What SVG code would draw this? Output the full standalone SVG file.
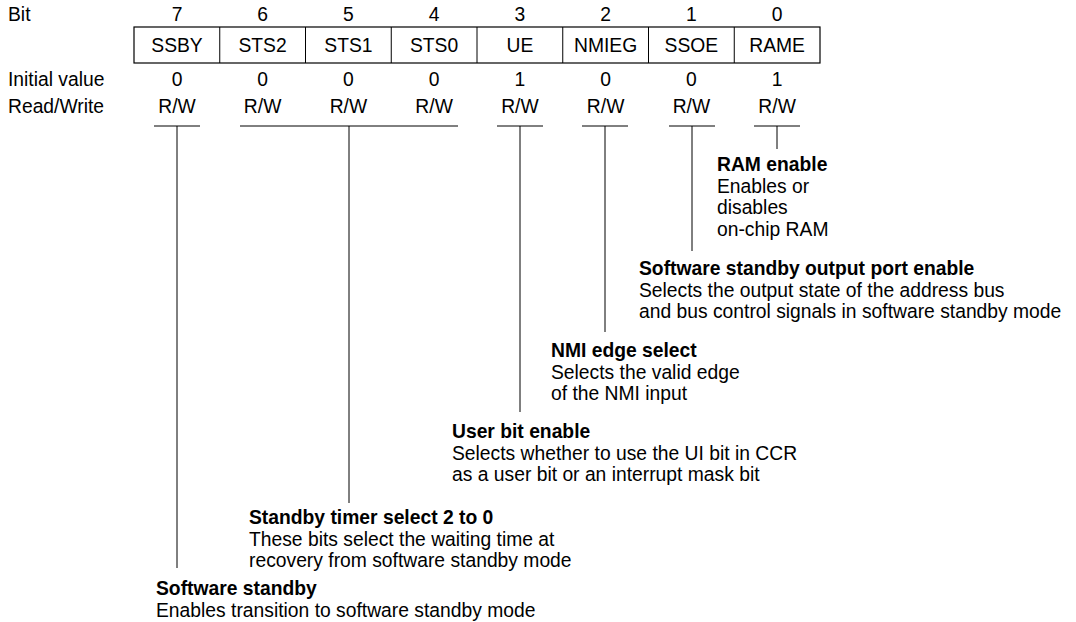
<svg xmlns="http://www.w3.org/2000/svg" width="1076" height="622" viewBox="0 0 1076 622">
<style>
text{font-family:"Liberation Sans",Arial,Helvetica,sans-serif;font-size:19.3px;fill:#000}
.c{text-anchor:middle}
.b{font-weight:bold}
.ln{stroke:#000;stroke-width:1;fill:none}
.cell{stroke:#000;stroke-width:1.2;fill:#fff}
</style>
<rect width="1076" height="622" fill="#fff"/>
<g id="labels">
<text x="8" y="20.5">Bit</text>
<text x="8" y="86">Initial value</text>
<text x="8" y="113">Read/Write</text>
</g>
<g id="register">
<rect class="cell" x="134" y="27" width="686" height="36"/>
<path class="ln" d="M219.75 27V63M305.5 27V63M391.25 27V63M477 27V63M562.75 27V63M648.5 27V63M734.25 27V63"/>
</g>
<g id="bit7"><text class="c" x="177" y="20.5">7</text><text class="c" x="177" y="52">SSBY</text><text class="c" x="177" y="86">0</text><text class="c" x="177" y="113">R/W</text></g>
<g id="bit6"><text class="c" x="262.6" y="20.5">6</text><text class="c" x="262.6" y="52">STS2</text><text class="c" x="262.6" y="86">0</text><text class="c" x="262.6" y="113">R/W</text></g>
<g id="bit5"><text class="c" x="348.4" y="20.5">5</text><text class="c" x="348.4" y="52">STS1</text><text class="c" x="348.4" y="86">0</text><text class="c" x="348.4" y="113">R/W</text></g>
<g id="bit4"><text class="c" x="434.1" y="20.5">4</text><text class="c" x="434.1" y="52">STS0</text><text class="c" x="434.1" y="86">0</text><text class="c" x="434.1" y="113">R/W</text></g>
<g id="bit3"><text class="c" x="519.9" y="20.5">3</text><text class="c" x="519.9" y="52">UE</text><text class="c" x="519.9" y="86">1</text><text class="c" x="519.9" y="113">R/W</text></g>
<g id="bit2"><text class="c" x="605.6" y="20.5">2</text><text class="c" x="605.6" y="52">NMIEG</text><text class="c" x="605.6" y="86">0</text><text class="c" x="605.6" y="113">R/W</text></g>
<g id="bit1"><text class="c" x="691.4" y="20.5">1</text><text class="c" x="691.4" y="52">SSOE</text><text class="c" x="691.4" y="86">0</text><text class="c" x="691.4" y="113">R/W</text></g>
<g id="bit0"><text class="c" x="777.1" y="20.5">0</text><text class="c" x="777.1" y="52">RAME</text><text class="c" x="777.1" y="86">1</text><text class="c" x="777.1" y="113">R/W</text></g>
<g id="connectors">
<path class="ln" d="M154 126H200M177 126V568"/>
<path class="ln" d="M240 126H458M349 126V503"/>
<path class="ln" d="M497 126H543M520 126V412"/>
<path class="ln" d="M582 126H628M605 126V332"/>
<path class="ln" d="M669 126H715M692 126V251"/>
<path class="ln" d="M754 126H800M777 126V149"/>
</g>
<g id="desc-rame">
<text class="b" x="717" y="171">RAM enable</text>
<text x="717" y="192.5">Enables or</text>
<text x="717" y="214">disables</text>
<text x="717" y="235.5">on-chip RAM</text>
</g>
<g id="desc-ssoe">
<text class="b" x="639" y="275">Software standby output port enable</text>
<text x="639" y="296.5">Selects the output state of the address bus</text>
<text x="639" y="318">and bus control signals in software standby mode</text>
</g>
<g id="desc-nmieg">
<text class="b" x="551" y="357">NMI edge select</text>
<text x="551" y="378.5">Selects the valid edge</text>
<text x="551" y="400">of the NMI input</text>
</g>
<g id="desc-ue">
<text class="b" x="452" y="438">User bit enable</text>
<text x="452" y="459.5">Selects whether to use the UI bit in CCR</text>
<text x="452" y="481">as a user bit or an interrupt mask bit</text>
</g>
<g id="desc-sts">
<text class="b" x="249" y="524">Standby timer select 2 to 0</text>
<text x="249" y="545.5">These bits select the waiting time at</text>
<text x="249" y="567">recovery from software standby mode</text>
</g>
<g id="desc-ssby">
<text class="b" x="156" y="595">Software standby</text>
<text x="156" y="616.5">Enables transition to software standby mode</text>
</g>
</svg>
